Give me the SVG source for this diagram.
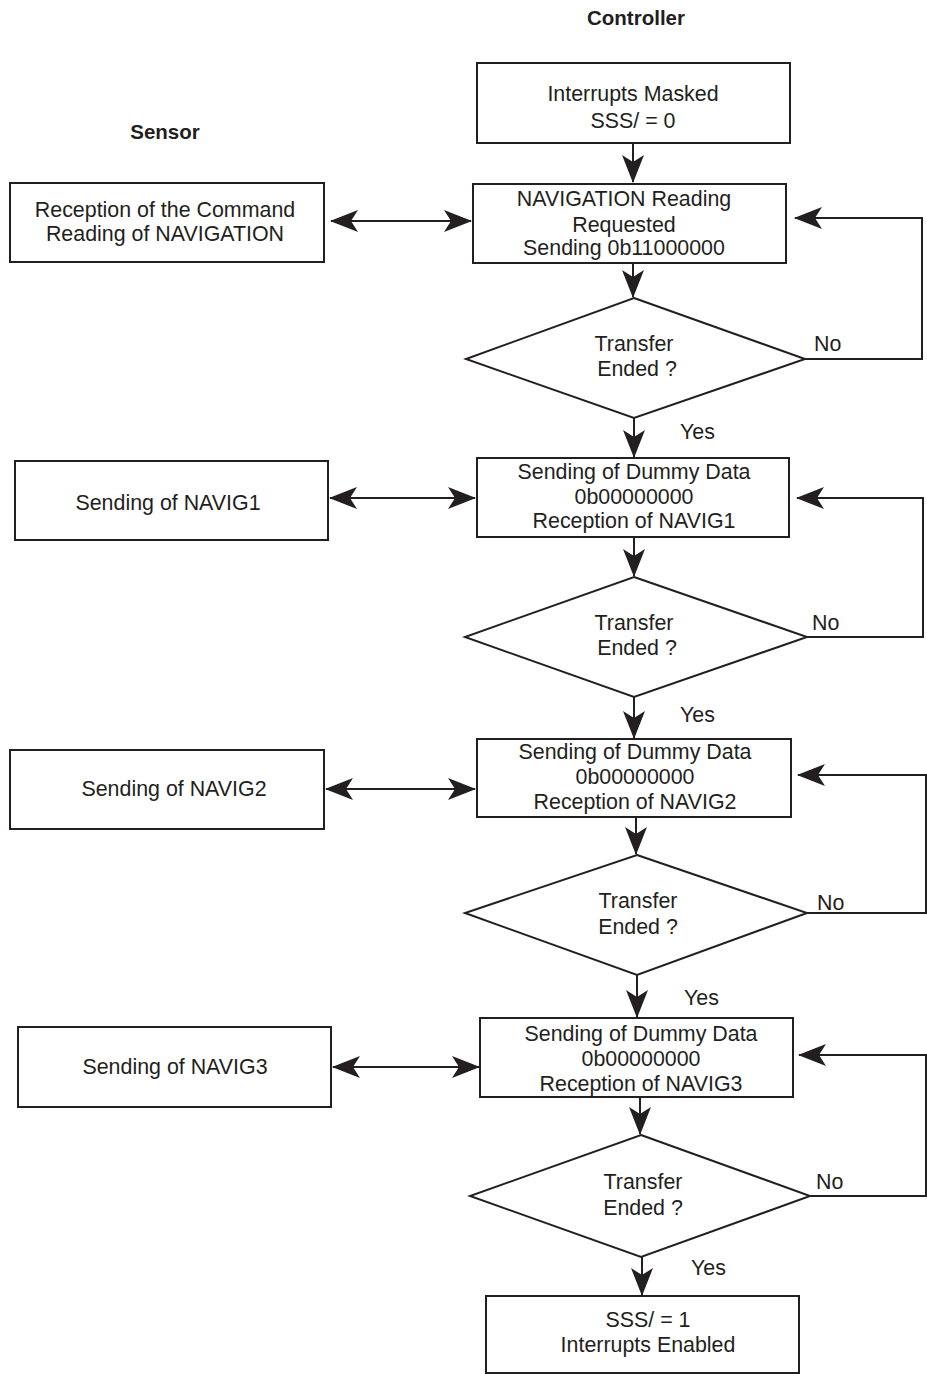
<svg xmlns="http://www.w3.org/2000/svg" width="927" height="1374" viewBox="0 0 927 1374">
<style>
.box{fill:#fff;stroke:#231f20;stroke-width:2}
.ln{fill:none;stroke:#231f20;stroke-width:2}
text{font-family:"Liberation Sans",Arial,sans-serif;font-size:21.4px;fill:#231f20;text-anchor:middle}
.hd{font-weight:bold;font-size:20.5px}
.lb{text-anchor:start}
</style>
<defs>
<marker id="ah" viewBox="0 0 28 22" refX="27" refY="11" markerWidth="28" markerHeight="22" markerUnits="userSpaceOnUse" orient="auto-start-reverse">
<path d="M0,0 L28,11 L0,22 L7,11 z" fill="#231f20"/>
</marker>
</defs>
<text class="hd" x="636" y="25">Controller</text>
<text class="hd" x="165" y="139">Sensor</text>

<g id="connectors">
<line class="ln" x1="633" y1="143" x2="633" y2="182" marker-end="url(#ah)"/>
<line class="ln" x1="331" y1="221" x2="471" y2="221" marker-start="url(#ah)" marker-end="url(#ah)"/>
<line class="ln" x1="633" y1="263" x2="633" y2="297" marker-end="url(#ah)"/>
<polyline class="ln" points="805,359 922,359 922,218 795,218" marker-end="url(#ah)"/>
<line class="ln" x1="634" y1="418" x2="634" y2="457" marker-end="url(#ah)"/>
<line class="ln" x1="330" y1="498" x2="475" y2="498" marker-start="url(#ah)" marker-end="url(#ah)"/>
<line class="ln" x1="634" y1="537" x2="634" y2="576" marker-end="url(#ah)"/>
<polyline class="ln" points="807,637 923,637 923,498 797,498" marker-end="url(#ah)"/>
<line class="ln" x1="634" y1="697" x2="634" y2="738" marker-end="url(#ah)"/>
<line class="ln" x1="326" y1="789" x2="475" y2="789" marker-start="url(#ah)" marker-end="url(#ah)"/>
<line class="ln" x1="636" y1="817" x2="636" y2="854" marker-end="url(#ah)"/>
<polyline class="ln" points="807,913 926,913 926,775 798,775" marker-end="url(#ah)"/>
<line class="ln" x1="637" y1="975" x2="637" y2="1017" marker-end="url(#ah)"/>
<line class="ln" x1="333" y1="1067" x2="479" y2="1067" marker-start="url(#ah)" marker-end="url(#ah)"/>
<line class="ln" x1="640" y1="1097" x2="640" y2="1134" marker-end="url(#ah)"/>
<polyline class="ln" points="810,1196 926,1196 926,1055 799,1055" marker-end="url(#ah)"/>
<line class="ln" x1="642" y1="1257" x2="642" y2="1295" marker-end="url(#ah)"/>
<text class="lb" x="814" y="351">No</text>
<text class="lb" x="680" y="439">Yes</text>
<text class="lb" x="812" y="630">No</text>
<text class="lb" x="680" y="722">Yes</text>
<text class="lb" x="817" y="910">No</text>
<text class="lb" x="684" y="1005">Yes</text>
<text class="lb" x="816" y="1189">No</text>
<text class="lb" x="691" y="1275">Yes</text>
</g>

<g id="n-masked">
<rect class="box" x="477" y="63" width="313" height="80"/>
<text x="633" y="101">Interrupts Masked</text>
<text x="633" y="128">SSS/ = 0</text>
</g>
<g id="n-request">
<rect class="box" x="473" y="184" width="313" height="79"/>
<text x="624" y="206">NAVIGATION Reading</text>
<text x="624" y="232">Requested</text>
<text x="624" y="255">Sending 0b11000000</text>
</g>
<g id="s-command">
<rect class="box" x="10" y="183" width="314" height="79"/>
<text x="165" y="217">Reception of the Command</text>
<text x="165" y="241">Reading of NAVIGATION</text>
</g>
<g id="d1">
<polygon class="box" points="634,298 805,359 634,418 466,359"/>
<text x="634" y="351">Transfer</text>
<text x="637" y="376">Ended ?</text>
</g>
<g id="n-dummy1">
<rect class="box" x="477" y="458" width="312" height="79"/>
<text x="634" y="479">Sending of Dummy Data</text>
<text x="634" y="504">0b00000000</text>
<text x="634" y="528">Reception of NAVIG1</text>
</g>
<g id="s-navig1">
<rect class="box" x="15" y="461" width="313" height="79"/>
<text x="168" y="510">Sending of NAVIG1</text>
</g>
<g id="d2">
<polygon class="box" points="634,577 807,637 634,697 465,637"/>
<text x="634" y="630">Transfer</text>
<text x="637" y="655">Ended ?</text>
</g>
<g id="n-dummy2">
<rect class="box" x="477" y="739" width="314" height="78"/>
<text x="635" y="759">Sending of Dummy Data</text>
<text x="635" y="784">0b00000000</text>
<text x="635" y="809">Reception of NAVIG2</text>
</g>
<g id="s-navig2">
<rect class="box" x="10" y="750" width="314" height="79"/>
<text x="174" y="796">Sending of NAVIG2</text>
</g>
<g id="d3">
<polygon class="box" points="637,855 807,913 637,975 465,913"/>
<text x="638" y="908">Transfer</text>
<text x="638" y="934">Ended ?</text>
</g>
<g id="n-dummy3">
<rect class="box" x="480" y="1018" width="313" height="79"/>
<text x="641" y="1041">Sending of Dummy Data</text>
<text x="641" y="1066">0b00000000</text>
<text x="641" y="1091">Reception of NAVIG3</text>
</g>
<g id="s-navig3">
<rect class="box" x="18" y="1027" width="313" height="80"/>
<text x="175" y="1074">Sending of NAVIG3</text>
</g>
<g id="d4">
<polygon class="box" points="641,1135 810,1196 641,1257 470,1196"/>
<text x="643" y="1189">Transfer</text>
<text x="643" y="1215">Ended ?</text>
</g>
<g id="n-enabled">
<rect class="box" x="486" y="1296" width="313" height="77"/>
<text x="648" y="1327">SSS/ = 1</text>
<text x="648" y="1352">Interrupts Enabled</text>
</g>
</svg>
